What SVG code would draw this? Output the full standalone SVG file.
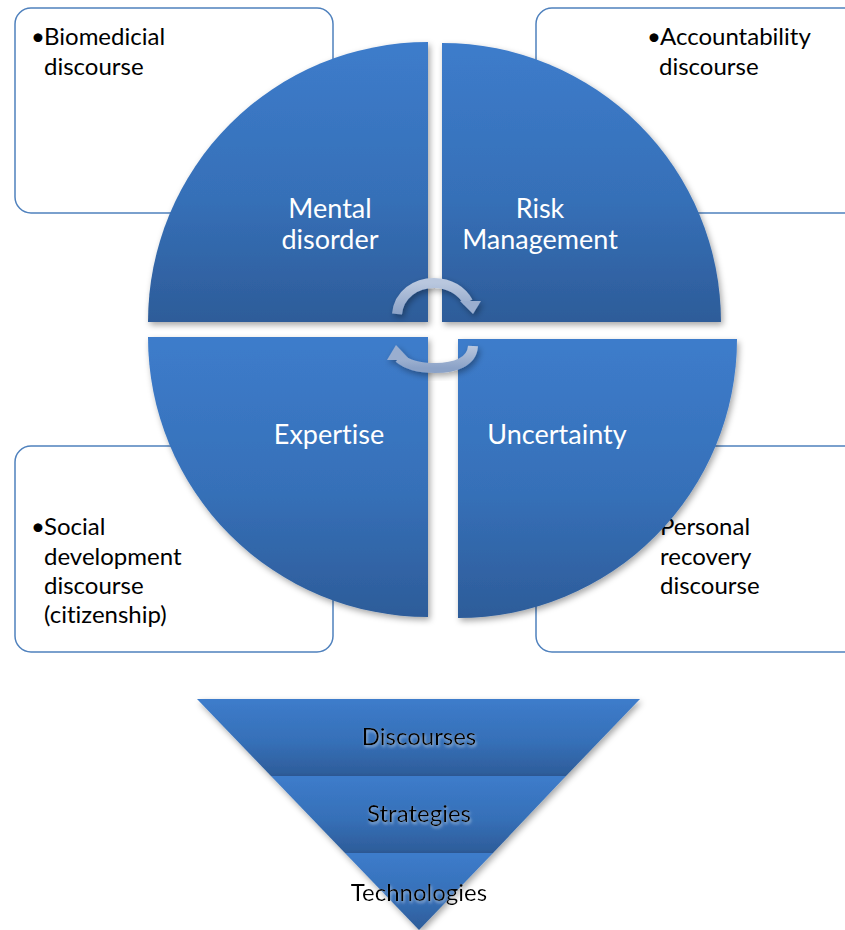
<svg xmlns="http://www.w3.org/2000/svg" width="845" height="930" viewBox="0 0 845 930">
  <defs>
    <linearGradient id="blueFill" x1="0" y1="0" x2="0" y2="1">
      <stop offset="0" stop-color="#3d7ccb"/>
      <stop offset="0.55" stop-color="#3670b8"/>
      <stop offset="1" stop-color="#2d5c99"/>
    </linearGradient>
    <linearGradient id="arrowFill" x1="0" y1="0" x2="0" y2="1">
      <stop offset="0" stop-color="#b9c7de"/>
      <stop offset="1" stop-color="#8ba2c7"/>
    </linearGradient>
    <filter id="shadow" x="-10%" y="-10%" width="125%" height="125%">
      <feDropShadow dx="2" dy="3" stdDeviation="3" flood-color="#000" flood-opacity="0.35"/>
    </filter>
    <filter id="glow" x="-10%" y="-30%" width="120%" height="160%">
      <feDropShadow dx="1" dy="2" stdDeviation="1.5" flood-color="#ffffff" flood-opacity="0.5"/>
    </filter>
  </defs>
  <style>
    text { font-variant-ligatures: none; font-feature-settings: "liga" 0; }
    .box { fill: #ffffff; stroke: #4f81bd; stroke-width: 1.5; }
    .boxText { font-family: Lato, "Liberation Sans", sans-serif; font-size: 24px; fill: #000000; }
    .quad { fill: url(#blueFill); filter: url(#shadow); }
    .quadText { font-family: Lato, "Liberation Sans", sans-serif; font-size: 27px; fill: #ffffff; text-anchor: middle; }
    .band { fill: url(#blueFill); filter: url(#shadow); }
    .bandText { font-family: Lato, "Liberation Sans", sans-serif; font-size: 24px; fill: #000000; text-anchor: middle; filter: url(#glow); }
    .arrow { fill: none; stroke: url(#arrowFill); stroke-width: 10; }
    .arrowHead { fill: #9aaecf; }
  </style>

  <!-- discourse boxes -->
  <g id="box-biomedicial">
    <rect class="box" x="15" y="8" width="318" height="205" rx="16"/>
    <text class="boxText" x="31" y="45">•</text>
    <text class="boxText" x="44" y="45">Biomedicial</text>
    <text class="boxText" x="44" y="75">discourse</text>
  </g>
  <g id="box-accountability">
    <rect class="box" x="536" y="8" width="326" height="205" rx="16"/>
    <text class="boxText" x="647" y="45">•</text>
    <text class="boxText" x="660" y="45">Accountability</text>
    <text class="boxText" x="659" y="75">discourse</text>
  </g>
  <g id="box-social">
    <rect class="box" x="15" y="446" width="318" height="206" rx="16"/>
    <text class="boxText" x="31" y="535">•</text>
    <text class="boxText" x="44" y="535">Social</text>
    <text class="boxText" x="44" y="565">development</text>
    <text class="boxText" x="44" y="594">discourse</text>
    <text class="boxText" x="44" y="623">(citizenship)</text>
  </g>
  <g id="box-personal">
    <rect class="box" x="536" y="446" width="326" height="206" rx="16"/>
    <text class="boxText" x="647" y="535">•</text>
    <text class="boxText" x="660" y="535">Personal</text>
    <text class="boxText" x="660" y="565">recovery</text>
    <text class="boxText" x="660" y="594">discourse</text>
  </g>

  <!-- circle quadrants -->
  <g id="quad-mental">
    <path class="quad" d="M428,322 L148,322 A280,280 0 0 1 428,42 Z"/>
    <text class="quadText" x="330" y="218">Mental</text>
    <text class="quadText" x="330" y="249">disorder</text>
  </g>
  <g id="quad-risk">
    <path class="quad" d="M442,322 L442,43 A279,279 0 0 1 721,322 Z"/>
    <text class="quadText" x="540" y="218">Risk</text>
    <text class="quadText" x="540" y="249">Management</text>
  </g>
  <g id="quad-expertise">
    <path class="quad" d="M428,337 L428,617 A280,280 0 0 1 148,337 Z"/>
    <text class="quadText" x="329" y="444">Expertise</text>
  </g>
  <g id="quad-uncertainty">
    <path class="quad" d="M458,339 L737,339 A279,279 0 0 1 458,618 Z"/>
    <text class="quadText" x="557" y="444">Uncertainty</text>
  </g>

  <!-- cycle arrows -->
  <g id="connectors" filter="url(#shadow)">
    <path class="arrow" d="M397,314 C399,294 416,283 434,283 C450,283 462,291 468,302"/>
    <polygon class="arrowHead" points="460,301 481,301 473,314"/>
    <path class="arrow" d="M473,346 C472,362 455,368 435,368 C419,368 406,364 399,358"/>
    <polygon class="arrowHead" points="396,345 387,360 410,360"/>
  </g>

  <!-- funnel -->
  <g id="band-discourses">
    <polygon class="band" points="197,699 640,699 566,776 271,776"/>
    <text class="bandText" x="419" y="745">Discourses</text>
  </g>
  <g id="band-strategies">
    <polygon class="band" points="271,776 566,776 493,853 345,853"/>
    <text class="bandText" x="419" y="822">Strategies</text>
  </g>
  <g id="band-technologies">
    <polygon class="band" points="345,853 493,853 419,930"/>
    <text class="bandText" x="419" y="901">Technologies</text>
  </g>
</svg>
